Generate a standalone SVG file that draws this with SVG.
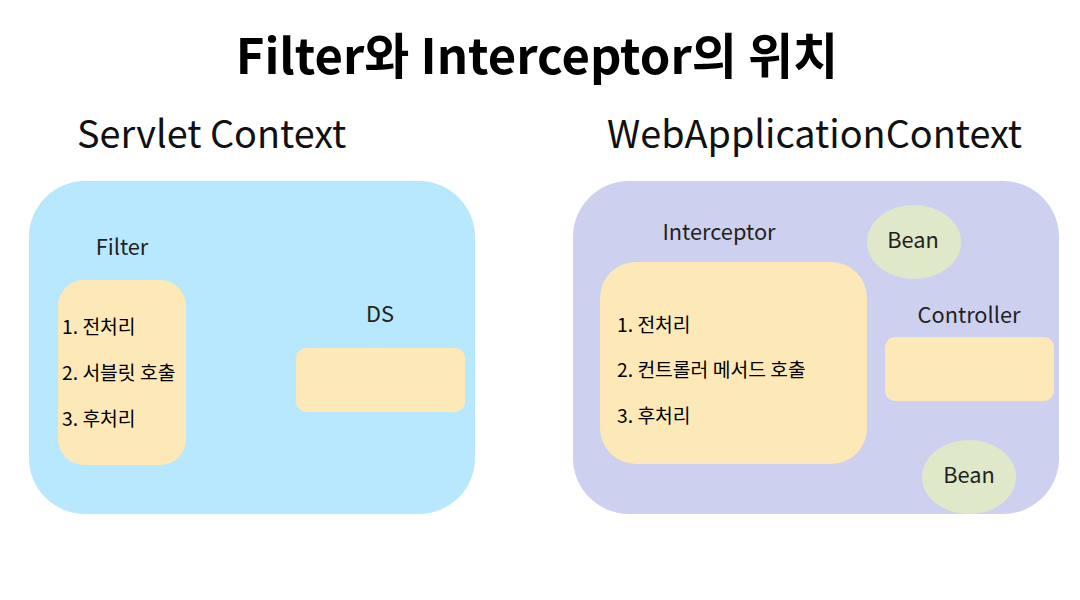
<svg xmlns="http://www.w3.org/2000/svg" width="1080" height="600" viewBox="0 0 1080 600">
<style>
text{font-family:"Noto Sans CJK KR","Noto Sans",sans-serif;fill:#000}
.h1{font-size:49px;font-weight:bold}
.h2{font-size:37.8px;fill:#111}
.lbl{font-size:21.8px;fill:#222}
.item{font-size:19.3px}
.inner{fill:#fde9b7}
.bean{fill:#dfe9ca}
</style>
<rect width="1080" height="600" fill="#fff"/>
<text class="h1" x="537" y="74" text-anchor="middle">Filter와 Interceptor의 위치</text>
<text class="h2" x="77" y="148">Servlet Context</text>
<text class="h2" x="607" y="148">WebApplicationContext</text>
<g id="servlet-context">
<rect x="29" y="181" width="446" height="333" rx="56" fill="#b8e8fd"/>
</g>
<g id="filter">
<text class="lbl" x="122" y="255" text-anchor="middle">Filter</text>
<rect class="inner" x="58" y="280" width="128" height="185" rx="26"/>
<text class="item" x="62" y="334">1. 전처리</text>
<text class="item" x="62" y="380">2. 서블릿 호출</text>
<text class="item" x="62" y="426">3. 후처리</text>
</g>
<g id="ds">
<text class="lbl" x="380" y="322" text-anchor="middle">DS</text>
<rect class="inner" x="296" y="348" width="169" height="64" rx="10"/>
</g>
<g id="web-app-context">
<rect x="573" y="181" width="486" height="333" rx="56" fill="#cdd1ef"/>
</g>
<g id="interceptor">
<text class="lbl" x="719" y="240" text-anchor="middle">Interceptor</text>
<rect class="inner" x="600" y="262" width="267" height="202" rx="36"/>
<text class="item" x="617" y="332">1. 전처리</text>
<text class="item" x="617" y="377">2. 컨트롤러 메서드 호출</text>
<text class="item" x="617" y="423">3. 후처리</text>
</g>
<g id="bean1">
<ellipse class="bean" cx="914" cy="242" rx="47" ry="37"/>
<text class="lbl" x="913" y="248" text-anchor="middle">Bean</text>
</g>
<g id="controller">
<text class="lbl" x="969" y="323" text-anchor="middle">Controller</text>
<rect class="inner" x="885" y="337" width="169" height="64" rx="10"/>
</g>
<g id="bean2">
<ellipse class="bean" cx="969" cy="477" rx="47" ry="37"/>
<text class="lbl" x="969" y="483" text-anchor="middle">Bean</text>
</g>
<g id="connectors"/>
</svg>
